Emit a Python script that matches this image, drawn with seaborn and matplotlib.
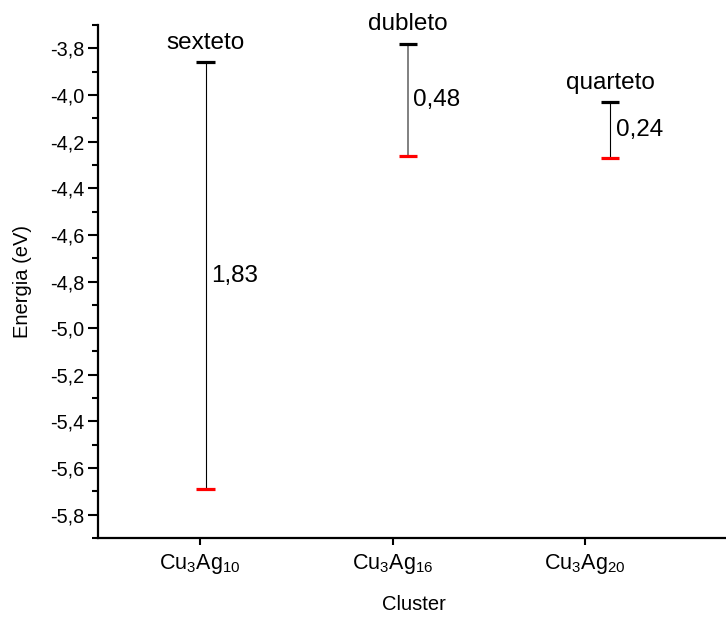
import numpy as np
import pandas as pd
import matplotlib
matplotlib.use("Agg")
import matplotlib.pyplot as plt
import seaborn as sns
from matplotlib.ticker import MultipleLocator, FuncFormatter

# ---- data ----
clusters = ["Cu3Ag10", "Cu3Ag16", "Cu3Ag20"]
tick_labels = [r"$\mathregular{Cu_3Ag_{10}}$", r"$\mathregular{Cu_3Ag_{16}}$", r"$\mathregular{Cu_3Ag_{20}}$"]
tick_pos = [1, 2, 3]
level_x = [1.03, 2.08, 3.13]
upper_level = [-3.86, -3.78, -4.03]   # black
lower_level = [-5.69, -4.26, -4.27]   # red
multiplicity = ["sexteto", "dubleto", "quarteto"]
gap_labels = ["1,83", "0,48", "0,24"]

sns.set_theme(style="ticks")
plt.rcParams["font.family"] = ["Liberation Sans", "DejaVu Sans"]
plt.rcParams["mathtext.fontset"] = "custom"
plt.rcParams["mathtext.rm"] = "Liberation Sans"
plt.rcParams["mathtext.it"] = "Liberation Sans"
for k in ["text.color", "axes.labelcolor", "xtick.color", "ytick.color", "axes.edgecolor"]:
    plt.rcParams[k] = "black"

fig = plt.figure(figsize=(7.26, 6.22), dpi=100)
ax = fig.add_axes([98 / 726, 84 / 622, 632 / 726, 513 / 622])

df = pd.DataFrame({
    "x": level_x * 2,
    "E": upper_level + lower_level,
    "kind": ["upper"] * 3 + ["lower"] * 3,
})

# connecting vertical lines
line_colors = ["black", "#808080", "black"]
line_widths = [0.8, 1.4, 0.8]
for x, top, bot, c, lw in zip(level_x, upper_level, lower_level, line_colors, line_widths):
    ax.vlines(x, bot, top, color=c, lw=lw, zorder=2)

sns.scatterplot(data=df, x="x", y="E", hue="kind",
                palette={"upper": "black", "lower": "#ff0000"},
                marker="_", s=13.5 ** 2, linewidth=2.3, legend=False, ax=ax, zorder=3)

for x, top, bot, name, g in zip(level_x, upper_level, lower_level, multiplicity, gap_labels):
    ax.annotate(name, (x, top), xytext=(0, 6), textcoords="offset points",
                ha="center", va="bottom", fontsize=17.5, color="black")
    ax.annotate(g, (x, (top + bot) / 2), xytext=(4, 0), textcoords="offset points",
                ha="left", va="center", fontsize=17.5, color="black")

ax.set_xlim(0.47, 3.753)
ax.set_ylim(-5.9, -3.7)
ax.set_xticks(tick_pos)
ax.set_xticklabels(tick_labels, fontsize=15.5)
ax.yaxis.set_major_locator(MultipleLocator(0.2))
ax.yaxis.set_minor_locator(MultipleLocator(0.1))
ax.yaxis.set_major_formatter(FuncFormatter(lambda v, p: f"{v:.1f}".replace(".", ",")))
ax.tick_params(axis="y", which="major", length=7, width=1.5, labelsize=14.3, pad=3)
ax.tick_params(axis="y", which="minor", length=4, width=1.5)
ax.tick_params(axis="x", which="major", length=5, width=1.5, pad=5)

for s in ["top", "right"]:
    ax.spines[s].set_visible(False)
for s in ["left", "bottom"]:
    ax.spines[s].set_linewidth(1.6)
    ax.spines[s].set_color("black")

ax.set_xlabel("Cluster", fontsize=14.5, labelpad=14)
ax.set_ylabel("Energia (eV)", fontsize=14.5, labelpad=13)

fig.savefig("out.png", dpi=100)
